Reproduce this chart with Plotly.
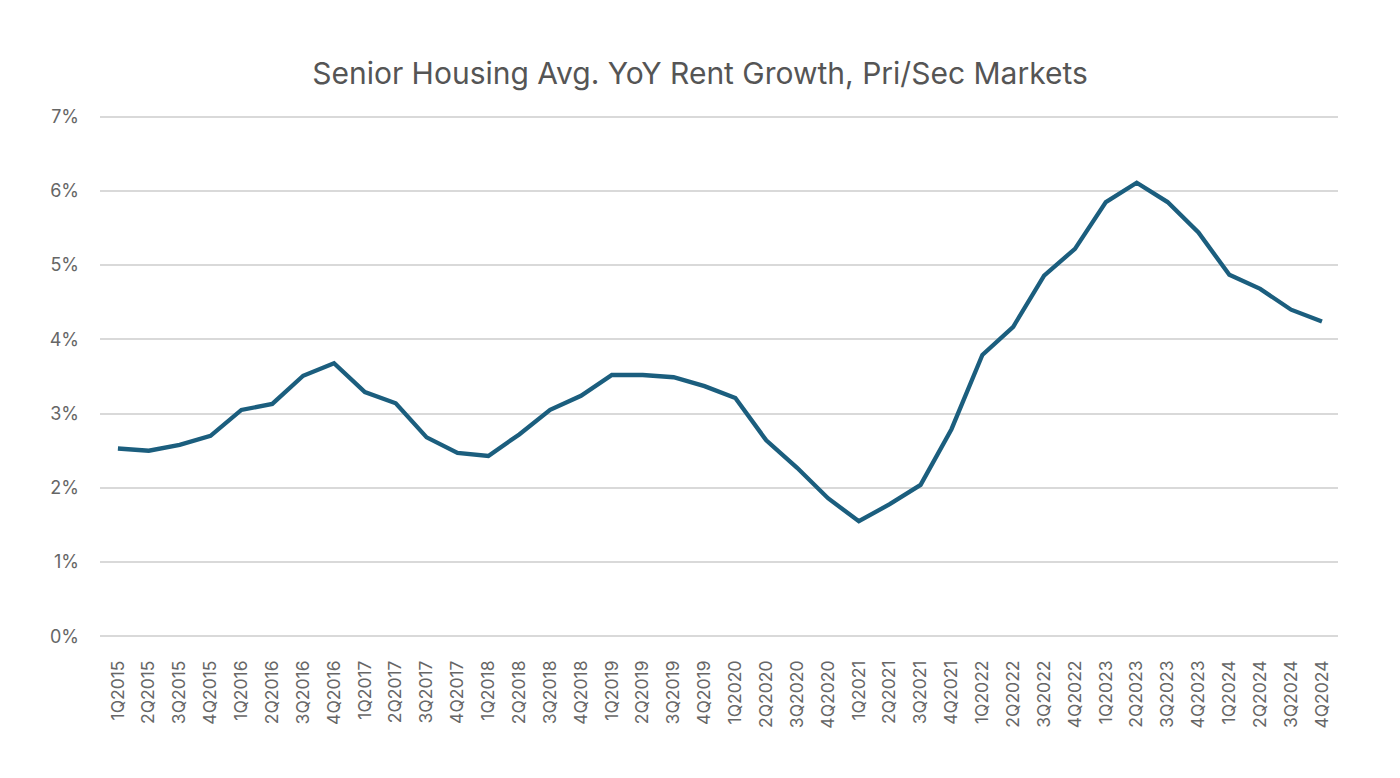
import plotly.graph_objects as go

quarters = [f"{q}Q{y}" for y in range(2015, 2025) for q in range(1, 5)]
rent_growth = [2.53, 2.50, 2.58, 2.70, 3.05, 3.13, 3.51, 3.68, 3.29, 3.14,
               2.68, 2.47, 2.43, 2.72, 3.05, 3.24, 3.52, 3.52, 3.49, 3.37,
               3.21, 2.64, 2.27, 1.86, 1.55, 1.78, 2.04, 2.79, 3.79, 4.17,
               4.86, 5.22, 5.85, 6.11, 5.85, 5.44, 4.87, 4.68, 4.40, 4.24]
y_ticks = [0, 1, 2, 3, 4, 5, 6, 7]

FONT = "Inter, Roboto, Liberation Sans, sans-serif"

fig = go.Figure()
fig.add_trace(go.Scatter(
    x=list(range(len(quarters))), y=rent_growth, mode="lines",
    line=dict(color="#1b5e7e", width=4.3),
    hoverinfo="skip",
))

fig.update_layout(
    width=1384, height=762,
    paper_bgcolor="white", plot_bgcolor="white",
    margin=dict(l=92, r=54, t=105, b=130, autoexpand=False),
    showlegend=False,
    title=dict(text="Senior Housing Avg. YoY Rent Growth, Pri/Sec Markets",
               x=0.5, xanchor="center", y=1 - 65 / 762, yanchor="middle",
               font=dict(family=FONT, size=30, color="#555555")),
    font=dict(family=FONT, color="#666666"),
)
fig.update_xaxes(
    range=[-0.58, len(quarters) - 1 + 0.52],
    tickmode="array", tickvals=list(range(len(quarters))), ticktext=quarters,
    tickangle=-90, tickfont=dict(size=17.5, color="#666666"),
    showgrid=False, zeroline=False, showline=False, ticks="",
    ticklabelstandoff=16,
)
fig.update_yaxes(
    range=[-0.05, 7.05], tickmode="array", tickvals=y_ticks,
    ticktext=[f"{v}%" for v in y_ticks],
    tickfont=dict(size=18, color="#666666"),
    showgrid=True, gridcolor="#d9d9d9", gridwidth=1.5,
    zeroline=False, showline=False, ticks="",
    ticklabelstandoff=20,
)

fig.write_html("out.html")
